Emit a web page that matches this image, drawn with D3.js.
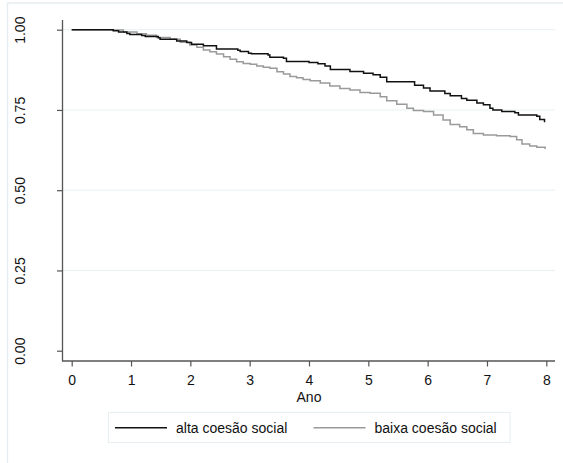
<!DOCTYPE html>
<html>
<head>
<meta charset="utf-8">
<script src="https://cdn.jsdelivr.net/npm/d3@7"></script>
<style>
    body { margin: 0; background: #fff; }
    svg { display: block; font-family: "Liberation Sans", Arial, sans-serif; }
</style>
</head>
<body>
<div id="chart"></div>
<script>
// Kaplan-Meier curves (time in years, survival)
const altaTime = [0, 0.70, 0.79, 0.93, 0.98, 1.18, 1.24, 1.46, 1.49, 1.77, 1.94, 2.02, 2.22, 2.44, 2.80, 2.84, 2.98, 3.03, 3.31, 3.34, 3.57, 3.62, 4.00, 4.15, 4.27, 4.36, 4.69, 4.92, 5.08, 5.20, 5.31, 5.78, 5.93, 6.04, 6.29, 6.38, 6.57, 6.66, 6.83, 6.94, 7.05, 7.10, 7.25, 7.47, 7.53, 7.84, 7.89, 7.97]
const altaSurv = [1, 0.997, 0.993, 0.988, 0.985, 0.982, 0.979, 0.975, 0.970, 0.965, 0.960, 0.955, 0.950, 0.940, 0.936, 0.932, 0.927, 0.925, 0.921, 0.914, 0.911, 0.901, 0.898, 0.894, 0.887, 0.876, 0.870, 0.864, 0.860, 0.852, 0.838, 0.827, 0.818, 0.809, 0.801, 0.794, 0.786, 0.780, 0.772, 0.766, 0.755, 0.750, 0.745, 0.741, 0.734, 0.730, 0.720, 0.712]

const baixaTime = [0, 0.70, 0.87, 1.10, 1.26, 1.43, 1.66, 1.83, 1.99, 2.11, 2.22, 2.33, 2.44, 2.56, 2.67, 2.78, 2.89, 3.01, 3.12, 3.23, 3.34, 3.46, 3.57, 3.68, 3.79, 3.90, 4.02, 4.19, 4.35, 4.52, 4.69, 4.86, 5.03, 5.20, 5.31, 5.48, 5.65, 5.76, 5.93, 6.10, 6.26, 6.38, 6.54, 6.66, 6.77, 6.94, 7.16, 7.39, 7.50, 7.59, 7.72, 7.84, 7.98]
const baixaSurv = [1, 0.999, 0.993, 0.987, 0.983, 0.976, 0.970, 0.961, 0.952, 0.945, 0.937, 0.931, 0.924, 0.916, 0.908, 0.900, 0.895, 0.892, 0.887, 0.883, 0.880, 0.869, 0.862, 0.854, 0.850, 0.845, 0.841, 0.834, 0.825, 0.817, 0.812, 0.804, 0.802, 0.791, 0.779, 0.768, 0.755, 0.748, 0.745, 0.734, 0.719, 0.705, 0.698, 0.688, 0.677, 0.672, 0.670, 0.667, 0.657, 0.644, 0.638, 0.634, 0.628]

const xTicks = [0, 1, 2, 3, 4, 5, 6, 7, 8]
const yTicks = [0, 0.25, 0.5, 0.75, 1]
const gridTicks = [0.25, 0.5, 0.75, 1]
const seriesNames = ["alta coesão social", "baixa coesão social"]
const seriesColors = ["#111111", "#9a9a9a"]
const xTitle = "Ano"

const width = 563
const height = 463

const svg = d3.select("#chart")
    .append("svg")
    .attr("width", width)
    .attr("height", height)

// outer graph region border
svg.append("rect")
    .attr("x", 7.5)
    .attr("y", 3)
    .attr("width", 700)
    .attr("height", 600)
    .attr("fill", "#fff")
    .attr("stroke", "#e6eef1")
    .attr("stroke-width", 1.5)

const plot = { left: 62.5, right: 555, top: 20, bottom: 361 }

const x = d3.scaleLinear().domain([0, 8]).range([71.7, 546.3])
const y = d3.scaleLinear().domain([0, 1]).range([350.7, 29.7])

// grid lines
svg.append("g")
    .selectAll("line")
    .data(gridTicks)
    .join("line")
    .attr("x1", plot.left)
    .attr("x2", plot.right)
    .attr("y1", d => y(d))
    .attr("y2", d => y(d))
    .attr("stroke", "#e8f0f2")
    .attr("stroke-width", 1)

// y axis
const yAxis = svg.append("g")
    .attr("transform", `translate(${plot.left},0)`)
    .call(d3.axisLeft(y).tickValues(yTicks).tickSize(5.5).tickSizeOuter(0).tickFormat(d3.format(".2f")))
yAxis.select(".domain").remove()
yAxis.append("line")
    .attr("y1", plot.top)
    .attr("y2", plot.bottom)
    .attr("stroke", "#555")
    .attr("stroke-width", 1.3)
yAxis.selectAll(".tick line").attr("stroke", "#555").attr("stroke-width", 1.2)
yAxis.selectAll(".tick text")
    .attr("x", null)
    .attr("dy", null)
    .attr("text-anchor", "middle")
    .attr("transform", "translate(-37.5,0) rotate(-90)")
    .attr("fill", "#111")
    .style("font-size", "14px")

// x axis
const xAxis = svg.append("g")
    .attr("transform", `translate(0,${plot.bottom})`)
    .call(d3.axisBottom(x).tickValues(xTicks).tickSize(5.5).tickSizeOuter(0))
xAxis.select(".domain").remove()
xAxis.append("line")
    .attr("x1", plot.left - 0.5)
    .attr("x2", plot.right)
    .attr("stroke", "#555")
    .attr("stroke-width", 1.3)
xAxis.selectAll(".tick line").attr("stroke", "#555").attr("stroke-width", 1.2)
xAxis.selectAll(".tick text")
    .attr("y", 24)
    .attr("dy", null)
    .attr("fill", "#111")
    .style("font-size", "14px")

svg.append("text")
    .attr("x", x(4))
    .attr("y", 401.5)
    .attr("text-anchor", "middle")
    .attr("fill", "#111")
    .style("font-size", "14px")
    .text(xTitle)

// survival curves
const line = d3.line()
    .x(d => x(d[0]))
    .y(d => y(d[1]))
    .curve(d3.curveStepAfter)

const series = [
    d3.zip(altaTime, altaSurv),
    d3.zip(baixaTime, baixaSurv)
]

// grey drawn first so black sits on top
svg.append("g")
    .selectAll("path")
    .data([1, 0])
    .join("path")
    .attr("d", i => line(series[i]))
    .attr("fill", "none")
    .attr("stroke", i => seriesColors[i])
    .attr("stroke-width", 1.5)

// legend
const legend = svg.append("g")
legend.append("rect")
    .attr("x", 108.5)
    .attr("y", 412.5)
    .attr("width", 401.5)
    .attr("height", 30)
    .attr("fill", "#fff")
    .attr("stroke", "#e6eef1")
    .attr("stroke-width", 1)

const legendX = [115, 313.5]
seriesNames.forEach((name, i) => {
    legend.append("line")
        .attr("x1", legendX[i])
        .attr("x2", legendX[i] + 52)
        .attr("y1", 427.7)
        .attr("y2", 427.7)
        .attr("stroke", seriesColors[i])
        .attr("stroke-width", 1.5)
    legend.append("text")
        .attr("x", legendX[i] + 61)
        .attr("y", 433.3)
        .attr("fill", "#111")
        .style("font-size", "14px")
        .text(name)
})
</script>
</body>
</html>
